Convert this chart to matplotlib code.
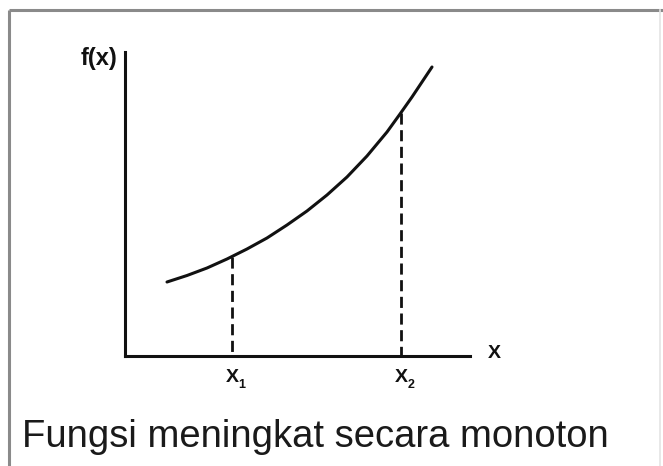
import matplotlib.pyplot as plt

# curve (pixel-like units, y grows downward)
curve_x = [167, 187, 207, 227, 247, 267, 287, 307, 327, 347, 367, 387, 400, 412, 422, 432]
curve_y = [282, 275.5, 268, 259, 249, 238, 225, 211, 195, 177, 156, 132, 114, 97, 82, 67]

mark_x = [232, 401]
mark_y = [257, 113]
mark_labels = ["X", "X"]
mark_subs = ["1", "2"]

caption = "Fungsi meningkat secara monoton"

fig = plt.figure(figsize=(6.63, 4.66), dpi=100)
ax = fig.add_axes([0, 0, 1, 1])
ax.set_xlim(0, 663)
ax.set_ylim(466, 0)
ax.axis("off")

# outer frame
ax.plot([9, 9], [10, 466], color="#8a8a8a", lw=2.2, solid_capstyle="butt")
ax.plot([9, 663], [10, 10], color="#8a8a8a", lw=2.2, solid_capstyle="butt")
ax.plot([660, 660], [10, 466], color="#e4e4e4", lw=1.2)

# axes
ax.plot([125, 125], [52, 356], color="#111111", lw=2.2)
ax.plot([125, 470], [356, 356], color="#111111", lw=2.2)

# curve
ax.plot(curve_x, curve_y, color="#111111", lw=2.2, solid_capstyle="round",
        solid_joinstyle="round")

# dashed guides and labels
for x, y, lab, sub in zip(mark_x, mark_y, mark_labels, mark_subs):
    ax.plot([x, x], [y, 356], color="#111111", lw=2.0, linestyle=(0, (4, 2)))
    ax.text(x, 377, lab, ha="center", va="center", fontsize=14,
            fontweight="bold", family="Liberation Sans", color="#111111")
    ax.text(x + 10, 385, sub, ha="center", va="center", fontsize=9,
            fontweight="bold", family="Liberation Sans", color="#111111")

ax.text(99, 58, "f(x)", ha="center", va="center", fontsize=17,
        fontweight="bold", family="Liberation Sans", color="#111111")
ax.text(494, 354, "X", ha="center", va="center", fontsize=14,
        fontweight="bold", family="Liberation Sans", color="#111111")

ax.text(22, 447, caption, ha="left", va="baseline", fontsize=27.5,
        family="Liberation Sans", color="#1a1a1a")

fig.savefig("out.png", dpi=100)
